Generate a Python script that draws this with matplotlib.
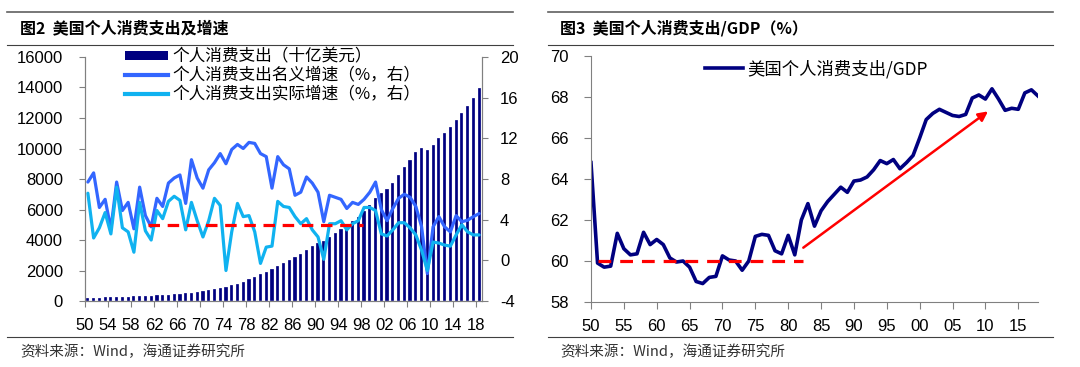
import numpy as np
import matplotlib
matplotlib.use('Agg')
import matplotlib.pyplot as plt
from matplotlib.lines import Line2D
from matplotlib.patches import Patch

plt.rcParams['font.family'] = ['Noto Sans CJK SC', 'DejaVu Sans']
plt.rcParams['axes.unicode_minus'] = False

years = np.arange(1950, 2019)

# 个人消费支出（十亿美元）
pce = [192, 209, 220, 233, 240, 259, 272, 287, 296, 318,
       331, 342, 363, 382, 411, 443, 480, 506, 557, 604,
       647, 700, 768, 850, 930, 1031, 1148, 1274, 1422, 1585,
       1751, 1934, 2071, 2282, 2492, 2713, 2886, 3076, 3330, 3577,
       3809, 3943, 4198, 4452, 4721, 4963, 5245, 5537, 5877, 6284,
       6767, 7074, 7349, 7741, 8232, 8769, 9277, 9747, 10050, 9891,
       10260, 10699, 11047, 11388, 11875, 12297, 12770, 13340, 13999]

# 名义增速（%）
nominal = [7.7, 8.6, 5.2, 6.0, 3.1, 7.7, 4.9, 5.7, 3.1, 7.2,
           4.4, 3.3, 6.1, 5.3, 7.6, 8.1, 8.4, 5.6, 9.9, 8.1,
           7.1, 8.9, 9.6, 10.5, 9.5, 10.9, 11.4, 11.0, 11.6, 11.5,
           10.5, 10.2, 7.1, 10.2, 9.4, 9.0, 6.4, 6.7, 8.2, 7.6,
           6.7, 3.8, 6.4, 6.2, 6.0, 5.1, 5.7, 5.5, 6.0, 6.7,
           7.7, 5.0, 3.9, 5.1, 6.1, 6.5, 6.2, 5.3, 3.3, -1.3,
           3.3, 4.3, 3.3, 2.8, 4.4, 3.8, 3.95, 4.3, 4.6]

# 实际增速（%）
real = [6.6, 2.2, 3.2, 4.7, 2.6, 7.2, 3.2, 2.8, 0.8, 5.7,
        2.9, 2.0, 4.9, 4.1, 5.8, 6.3, 5.9, 3.0, 5.7, 3.9,
        2.3, 3.9, 6.1, 5.4, -1.0, 2.8, 5.6, 4.3, 4.4, 2.8,
        -0.3, 1.3, 1.4, 5.8, 5.3, 5.2, 4.3, 3.6, 4.1, 3.0,
        2.3, 0.1, 3.6, 3.6, 3.9, 3.0, 3.6, 3.9, 5.2, 5.2,
        4.9, 2.6, 2.4, 3.0, 3.7, 3.7, 3.2, 2.5, 1.0, -1.0,
        1.8, 1.7, 1.5, 1.4, 2.5, 3.5, 2.8, 2.5, 2.5]

# 个人消费支出/GDP（%）
ratio = [64.8, 59.9, 59.7, 59.75, 61.35, 60.6, 60.3, 60.35, 61.4, 60.8,
         61.05, 60.8, 60.15, 59.95, 60.0, 59.7, 59.0, 58.9, 59.2, 59.25,
         60.25, 60.05, 60.0, 59.55, 60.0, 61.2, 61.3, 61.25, 60.5, 60.35,
         61.25, 60.3, 62.0, 62.8, 61.7, 62.45, 62.9, 63.25, 63.6, 63.35,
         63.9, 63.95, 64.1, 64.45, 64.9, 64.75, 64.95, 64.5, 64.8, 65.15,
         66.0, 66.9, 67.2, 67.4, 67.25, 67.1, 67.05, 67.15, 67.95, 68.1,
         67.9, 68.4, 67.9, 67.35, 67.45, 67.4, 68.2, 68.35, 68.05]

left_ticks = list(range(1950, 2019, 4))
right_ticks = list(range(1950, 2016, 5))

tick_font = 'Liberation Sans'
navy = '#000080'
grey = '#808080'

fig = plt.figure(figsize=(10.8, 3.67), dpi=100)

# ---------- 图2 ----------
ax = fig.add_axes([0.0787, 0.1798, 0.3676, 0.6649])
ax2 = ax.twinx()
ax.bar(years, pce, width=0.55, color=navy, edgecolor='white', linewidth=0.2)
ax2.plot(years, nominal, color='#3366FF', lw=2.3, solid_joinstyle='round',
         solid_capstyle='round')
ax2.plot(years, real, color='#10B2F0', lw=2.3, solid_joinstyle='round',
         solid_capstyle='round')
ax2.plot([1960.5, 1997.8], [3.5, 3.5], color='#FF0000', lw=2.3, dashes=(3.6, 2.4))

ax.set_xlim(1949.5, 2018.5)
ax.set_ylim(0, 16000)
ax2.set_ylim(-4, 20)
ax.set_yticks(range(0, 16001, 2000))
ax2.set_yticks(range(-4, 21, 4))
ax.set_xticks([y - 0.5 for y in left_ticks])
ax.set_xticklabels(['%02d' % (y % 100) for y in left_ticks])

for a in (ax, ax2):
    a.spines['top'].set_visible(False)
    for s in ('left', 'right', 'bottom'):
        a.spines[s].set_color(grey)
    a.tick_params(colors=grey, labelcolor='black', labelsize=12, length=4)
    for lab in a.get_xticklabels() + a.get_yticklabels():
        lab.set_fontfamily(tick_font)
ax.tick_params(axis='y', pad=12)
ax.tick_params(axis='x', pad=8)
ax2.tick_params(axis='y', pad=9)

handles = [Patch(facecolor=navy),
           Line2D([], [], color='#3366FF', lw=3),
           Line2D([], [], color='#10B2F0', lw=3)]
labels = ['个人消费支出（十亿美元）', '个人消费支出名义增速（%，右）', '个人消费支出实际增速（%，右）']
ax2.legend(handles, labels, loc='upper left', bbox_to_anchor=(0.1, 1.035),
           frameon=False, fontsize=12, handlelength=2.6, handleheight=0.5,
           handletextpad=0.25, labelspacing=0.12, borderpad=0, borderaxespad=0)

# ---------- 图3 ----------
bx = fig.add_axes([0.5472, 0.1771, 0.4139, 0.6703])
bx.plot(years, ratio, color=navy, lw=2.6, solid_joinstyle='round',
        label='美国个人消费支出/GDP')
bx.plot([1951, 1982.3], [60, 60], color='#FF0000', lw=2.3, dashes=(4, 2.8))
bx.annotate('', xy=(2010.4, 67.3), xytext=(1982.3, 60.65),
            arrowprops=dict(arrowstyle='-|>', color='#FF0000', lw=1.8,
                            mutation_scale=14, shrinkA=0, shrinkB=0))
bx.set_xlim(1950, 2018)
bx.set_ylim(58, 70)
bx.set_yticks(range(58, 71, 2))
bx.set_xticks(right_ticks)
bx.set_xticklabels(['%02d' % (y % 100) for y in right_ticks])
bx.spines['top'].set_visible(False)
bx.spines['right'].set_visible(False)
for s in ('left', 'bottom'):
    bx.spines[s].set_color(grey)
bx.tick_params(colors=grey, labelcolor='black', labelsize=12, length=5)
bx.tick_params(axis='y', pad=11)
bx.tick_params(axis='x', pad=7)
for lab in bx.get_xticklabels() + bx.get_yticklabels():
    lab.set_fontfamily(tick_font)
bx.legend(loc='upper left', bbox_to_anchor=(0.255, 0.985), frameon=False,
          fontsize=12.5, handlelength=2.2, handletextpad=0.25,
          borderpad=0, borderaxespad=0)

# ---------- titles, rules, sources ----------
for x0, x1 in ((0.0065, 0.475), (0.507, 0.975)):
    fig.add_artist(Line2D([x0, x1], [0.967, 0.967], color='#606060', lw=1.2))
    fig.add_artist(Line2D([x0, x1], [0.877, 0.877], color='#404040', lw=0.8))
    fig.add_artist(Line2D([x0, x1], [0.083, 0.083], color='#404040', lw=0.8))

fig.text(20 / 1080, 1 - 28 / 367, '图2  美国个人消费支出及增速', fontsize=11.5,
         fontweight='bold', va='center', ha='left')
fig.text(560 / 1080, 1 - 28 / 367, '图3  美国个人消费支出/GDP（%）', fontsize=11.5,
         fontweight='bold', va='center', ha='left')
fig.text(20 / 1080, 1 - 352 / 367, '资料来源：Wind，海通证券研究所', fontsize=10.5,
         color='#333333', va='center', ha='left')
fig.text(560 / 1080, 1 - 352 / 367, '资料来源：Wind，海通证券研究所', fontsize=10.5,
         color='#333333', va='center', ha='left')

fig.savefig('out.png', dpi=100)
